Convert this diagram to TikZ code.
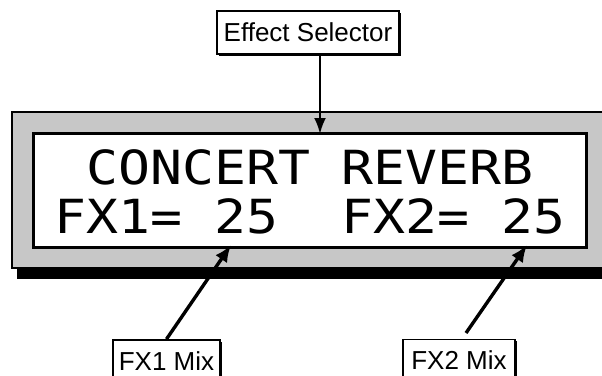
\documentclass[tikz,border=0pt]{standalone}
\usepackage{fontspec}
\newfontfamily\lcdfont{DejaVu Sans Mono}
\newfontfamily\labfont{Liberation Sans}
\usetikzlibrary{arrows.meta,shadows}
\tikzset{
  lbl/.style={draw=black, line width=1.8pt, fill=white, inner sep=0pt,
    text height=18.6pt, text depth=0pt,
    font=\labfont\fontsize{26}{26}\selectfont,
    drop shadow={shadow xshift=1.8pt, shadow yshift=-1.8pt, fill=black, opacity=1}},
  lcd/.style={anchor=base, inner sep=0pt},
  ptr/.style={draw=black, line width=3.4pt, -{Latex[length=17pt,width=14pt]}},
  ptrthin/.style={draw=black, line width=2.4pt, -{Latex[length=16pt,width=12pt]}}
}
\newcommand{\lcdtext}[1]{\scalebox{1.13}[1]{\lcdfont\fontsize{47}{47}\selectfont #1}}
\begin{document}
\begin{tikzpicture}[x=1pt,y=-1pt]
\useasboundingbox (0,0) rectangle (602,375);
\clip (0,0) rectangle (602,375);
\fill[white] (0,0) rectangle (602,375);
% panel
\fill[black] (17,269) rectangle (615,279);
\draw[line width=2.2pt, fill=black!22] (12,112) rectangle (615,268);
\node[draw=black, line width=3pt, fill=white, minimum width=553pt, minimum height=114pt, inner sep=0pt] (display) at (309.5,190) {};
% LCD text
\node[lcd] (row1) at (310,184) {\lcdtext{CONCERT REVERB}};
\node[lcd] (row2) at (310,233) {\lcdtext{FX1=\ 25\ \ FX2=\ 25}};
% labels
\node[lbl, minimum width=182pt, minimum height=43pt] (es) at (308,32.5) {Effect Selector};
\node[lbl, minimum width=107pt, minimum height=42pt] (fx1) at (166.5,361) {FX1 Mix};
\node[lbl, minimum width=112pt, minimum height=42pt] (fx2) at (459,360.5) {FX2 Mix};
% pointer targets
\coordinate (esTip) at (320,134);
\coordinate (t1) at (231,245);
\coordinate (t2) at (527,245);
\coordinate (f2s) at (466,333);
\draw[ptrthin] (es.south -| esTip) -- (esTip);
\draw[ptr] (fx1.north) -- (t1);
\draw[ptr] (f2s) -- (t2);
\end{tikzpicture}
\end{document}
